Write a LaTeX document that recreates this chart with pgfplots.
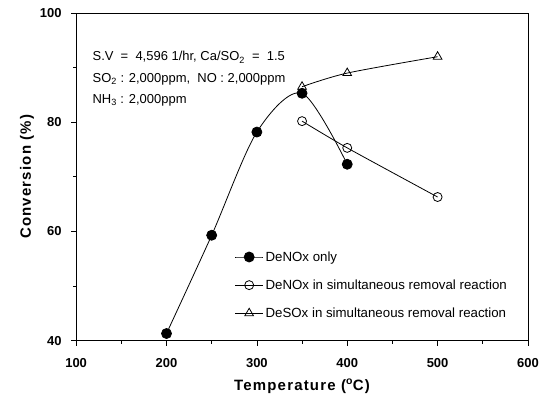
\documentclass[border=0pt]{standalone}
\usepackage{fontspec}
\setmainfont{Liberation Sans}
\usepackage{pgfplots}
\pgfplotsset{compat=1.18}
\begin{document}
\begin{tikzpicture}[x=1bp,y=1bp]
\begin{axis}[
  scale only axis,
  width=451bp, height=327bp,
  xmin=100, xmax=600, ymin=40, ymax=100,
  xtick={100,200,...,600}, ytick={40,60,80,100},
  minor x tick num=1, minor y tick num=1,
  tick align=outside,
  xtick pos=bottom, ytick pos=left,
  major tick length=5bp, minor tick length=3bp,
  axis line style={line width=0.8pt},
  tick style={line width=0.7pt, black},
  /pgf/number format/assume math mode=true,
  /pgf/number format/1000 sep={},
  ticklabel style={font=\fontsize{13}{15}\selectfont\bfseries},
  xticklabel style={yshift=-9bp},
  yticklabel style={xshift=-6bp},
  xlabel={Temperature (\textsuperscript{o}C)},
  ylabel={Conversion (\%)},
  label style={font=\fontsize{15}{17}\selectfont\bfseries\addfontfeature{LetterSpace=8}},
  xlabel style={yshift=-5bp},
  ylabel style={yshift=-1bp},
  legend style={at={(0.344,0.285)}, anchor=north west, draw=none, fill=none,
    font=\fontsize{13.3}{15}\selectfont, row sep=13bp, legend cell align=left},
  legend image code/.code={\draw[mark repeat=2,mark phase=2] plot coordinates {(0bp,0bp)(14bp,0bp)(28bp,0bp)};},
]
\addplot[black, line width=0.8pt, smooth, tension=0.5, mark=*, mark size=5bp, mark options={fill=black}]
  coordinates {(200,41.3) (250,59.3) (300,78.2) (350,85.3) (400,72.3)};
\addlegendentry{DeNOx only}
\addplot[black, line width=0.8pt, smooth, tension=0.4, mark=o, mark size=4.5bp, mark options={fill=white}]
  coordinates {(350,80.2) (400,75.3) (500,66.3)};
\addlegendentry{DeNOx in simultaneous removal reaction}
\addplot[black, line width=0.8pt, smooth, tension=0.5, mark=triangle, mark size=5bp, mark options={fill=white}]
  coordinates {(350,86.5) (400,89) (500,92)};
\addlegendentry{DeSOx in simultaneous removal reaction}
\node[anchor=west, font=\fontsize{13}{15}\selectfont, inner sep=0pt] at (axis cs:118,91.9) {S.V\ \ =\ \ 4,596 1/hr,\ Ca/SO\textsubscript{2}\ \ =\ \ 1.5};
\node[anchor=west, font=\fontsize{13}{15}\selectfont, inner sep=0pt] at (axis cs:118,87.9) {SO\textsubscript{2} : 2,000ppm,\ \ NO : 2,000ppm};
\node[anchor=west, font=\fontsize{13}{15}\selectfont, inner sep=0pt] at (axis cs:118,84.0) {NH\textsubscript{3} : 2,000ppm};
\end{axis}
\path ([shift={(-76bp,-58bp)}]current axis.south west) rectangle ([shift={(24bp,13bp)}]current axis.north east);
\end{tikzpicture}
\end{document}
